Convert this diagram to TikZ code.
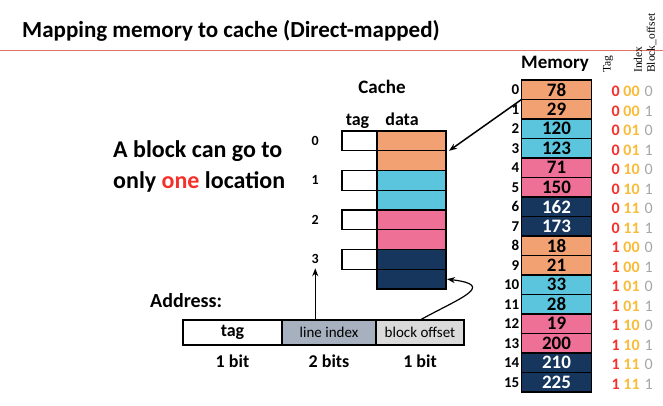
\documentclass[tikz,border=0pt]{standalone}
\usepackage{fontspec}
\setmainfont{Carlito}
\newfontfamily\headfont{Liberation Serif}
\usetikzlibrary{positioning,arrows.meta}

\definecolor{blockorange}{HTML}{F2A172}
\definecolor{blockcyan}{HTML}{5BC5DD}
\definecolor{blockpink}{HTML}{EE7097}
\definecolor{blocknavy}{HTML}{17365D}
\definecolor{bitred}{HTML}{F5302A}
\definecolor{bityellow}{HTML}{F8BC3A}
\definecolor{bitgray}{HTML}{A6A6A6}
\definecolor{rulered}{HTML}{E2736A}
\definecolor{indexfill}{HTML}{A6B0BE}
\definecolor{offsetfill}{HTML}{DADADA}

\newcommand{\tagbit}[1]{{\color{bitred}#1}}
\newcommand{\linebit}[1]{{\color{bityellow}#1}}
\newcommand{\offbit}[1]{{\color{bitgray}\mdseries#1}}

\begin{document}
\begin{tikzpicture}[x=1pt,y=-1pt,
    memcell/.style={draw, line width=1.4pt, minimum width=70pt, minimum height=19.5pt,
      inner sep=0pt, outer sep=0pt, font=\bfseries\fontsize{19}{19}\selectfont},
    orangecell/.style={memcell, fill=blockorange},
    cyancell/.style={memcell, fill=blockcyan},
    pinkcell/.style={memcell, fill=blockpink},
    navycell/.style={memcell, fill=blocknavy, text=white},
    memidx/.style={inner sep=0pt, font=\bfseries\fontsize{15}{15}\selectfont},
    bits/.style={inner sep=0pt, yshift=-2pt, font=\bfseries\fontsize{16}{16}\selectfont},
    colhead/.style={rotate=90, anchor=west, inner sep=0pt, font=\headfont\fontsize{11.5}{11.5}\selectfont},
    datacell/.style={draw, line width=1.4pt, minimum width=69pt, minimum height=19.75pt,
      inner sep=0pt, outer sep=0pt},
    tagcell/.style={datacell, fill=white, minimum width=35pt},
    setnum/.style={inner sep=1pt, font=\bfseries\fontsize{14}{14}\selectfont},
    plaintext/.style={inner sep=0pt, font=\bfseries\fontsize{19}{19}\selectfont},
    field/.style={draw, line width=1.4pt, minimum height=25pt, inner sep=0pt, outer sep=0pt},
    ptr/.style={-{Stealth[length=8pt,width=6pt]}, line width=1.5pt}]
    \useasboundingbox (0,0) rectangle (663,405);

    % title
    \node [plaintext, anchor=base west, font=\bfseries\fontsize{23}{23}\selectfont] (title) at (22,37)
      {Mapping memory to cache (Direct-mapped)};
    \draw [rulered, line width=1pt] (0,50.3) -- (663,50.3);

    % memory
    \node [plaintext, anchor=base] (memlabel) at (555,68) {Memory};
    \node [orangecell] (m0) at (556.5,89.75) {78};
    \node [orangecell, below=0pt of m0] (m1) {29};
    \node [cyancell, below=0pt of m1] (m2) {120};
    \node [cyancell, below=0pt of m2] (m3) {123};
    \node [pinkcell, below=0pt of m3] (m4) {71};
    \node [pinkcell, below=0pt of m4] (m5) {150};
    \node [navycell, below=0pt of m5] (m6) {162};
    \node [navycell, below=0pt of m6] (m7) {173};
    \node [orangecell, below=0pt of m7] (m8) {18};
    \node [orangecell, below=0pt of m8] (m9) {21};
    \node [cyancell, below=0pt of m9] (m10) {33};
    \node [cyancell, below=0pt of m10] (m11) {28};
    \node [pinkcell, below=0pt of m11] (m12) {19};
    \node [pinkcell, below=0pt of m12] (m13) {200};
    \node [navycell, below=0pt of m13] (m14) {210};
    \node [navycell, below=0pt of m14] (m15) {225};

    \node [memidx, left=2pt of m0] (a0) {0};
    \node [memidx, left=2pt of m1] (a1) {1};
    \node [memidx, left=2pt of m2] (a2) {2};
    \node [memidx, left=2pt of m3] (a3) {3};
    \node [memidx, left=2pt of m4] (a4) {4};
    \node [memidx, left=2pt of m5] (a5) {5};
    \node [memidx, left=2pt of m6] (a6) {6};
    \node [memidx, left=2pt of m7] (a7) {7};
    \node [memidx, left=2pt of m8] (a8) {8};
    \node [memidx, left=2pt of m9] (a9) {9};
    \node [memidx, left=2pt of m10] (a10) {10};
    \node [memidx, left=2pt of m11] (a11) {11};
    \node [memidx, left=2pt of m12] (a12) {12};
    \node [memidx, left=2pt of m13] (a13) {13};
    \node [memidx, left=2pt of m14] (a14) {14};
    \node [memidx, left=2pt of m15] (a15) {15};

    \node [bits, right=20pt of m0] (b0) {\tagbit{0} \linebit{00}\hspace{5pt}\offbit{0}};
    \node [bits, right=20pt of m1] (b1) {\tagbit{0} \linebit{00}\hspace{5pt}\offbit{1}};
    \node [bits, right=20pt of m2] (b2) {\tagbit{0} \linebit{01}\hspace{5pt}\offbit{0}};
    \node [bits, right=20pt of m3] (b3) {\tagbit{0} \linebit{01}\hspace{5pt}\offbit{1}};
    \node [bits, right=20pt of m4] (b4) {\tagbit{0} \linebit{10}\hspace{5pt}\offbit{0}};
    \node [bits, right=20pt of m5] (b5) {\tagbit{0} \linebit{10}\hspace{5pt}\offbit{1}};
    \node [bits, right=20pt of m6] (b6) {\tagbit{0} \linebit{11}\hspace{5pt}\offbit{0}};
    \node [bits, right=20pt of m7] (b7) {\tagbit{0} \linebit{11}\hspace{5pt}\offbit{1}};
    \node [bits, right=20pt of m8] (b8) {\tagbit{1} \linebit{00}\hspace{5pt}\offbit{0}};
    \node [bits, right=20pt of m9] (b9) {\tagbit{1} \linebit{00}\hspace{5pt}\offbit{1}};
    \node [bits, right=20pt of m10] (b10) {\tagbit{1} \linebit{01}\hspace{5pt}\offbit{0}};
    \node [bits, right=20pt of m11] (b11) {\tagbit{1} \linebit{01}\hspace{5pt}\offbit{1}};
    \node [bits, right=20pt of m12] (b12) {\tagbit{1} \linebit{10}\hspace{5pt}\offbit{0}};
    \node [bits, right=20pt of m13] (b13) {\tagbit{1} \linebit{10}\hspace{5pt}\offbit{1}};
    \node [bits, right=20pt of m14] (b14) {\tagbit{1} \linebit{11}\hspace{5pt}\offbit{0}};
    \node [bits, right=20pt of m15] (b15) {\tagbit{1} \linebit{11}\hspace{5pt}\offbit{1}};

    \node [colhead] (htag) at (608,73) {Tag};
    \node [colhead] (hindex) at (638,73) {Index};
    \node [colhead] (hoffset) at (651.5,73) {Block\_offset};

    % cache
    \node [plaintext, anchor=base] (cachelabel) at (382,93) {Cache};
    \node [datacell, fill=blockorange] (d0) at (411.5,140.9) {};
    \node [datacell, fill=blockorange, below=0pt of d0] (d1) {};
    \node [datacell, fill=blockcyan, below=0pt of d1] (d2) {};
    \node [datacell, fill=blockcyan, below=0pt of d2] (d3) {};
    \node [datacell, fill=blockpink, below=0pt of d3] (d4) {};
    \node [datacell, fill=blockpink, below=0pt of d4] (d5) {};
    \node [datacell, fill=blocknavy, below=0pt of d5] (d6) {};
    \node [datacell, fill=blocknavy, below=0pt of d6] (d7) {};

    \node [tagcell, left=0pt of d0] (t0) {};
    \node [tagcell, left=0pt of d2] (t1) {};
    \node [tagcell, left=0pt of d4] (t2) {};
    \node [tagcell, left=0pt of d6] (t3) {};

    \node [setnum, left=22pt of t0] (s0) {0};
    \node [setnum, left=22pt of t1] (s1) {1};
    \node [setnum, left=22pt of t2] (s2) {2};
    \node [setnum, left=22pt of t3] (s3) {3};

    \node [plaintext, anchor=base, font=\bfseries\fontsize{18}{18}\selectfont] (taglabel) at (357.5,125) {tag};
    \node [plaintext, anchor=base, font=\bfseries\fontsize{18}{18}\selectfont] (datalabel) at (402,125) {data};

    % text
    \node [plaintext, anchor=base west, font=\bfseries\fontsize{24}{24}\selectfont] (blk1) at (113,157)
      {A block can go to};
    \node [plaintext, anchor=base west, font=\bfseries\fontsize{24}{24}\selectfont] (blk2) at ([yshift=-31pt]blk1.base west)
      {only \textcolor{bitred}{one} location};

    % address
    \node [plaintext, anchor=base west, font=\bfseries\fontsize{20}{20}\selectfont] (addrlabel) at (150,307) {Address:};
    \node [field, fill=white, minimum width=99pt, font=\bfseries\fontsize{18}{18}\selectfont] (tagf) at (232.5,332.5) {tag};
    \node [field, fill=indexfill, minimum width=94pt, right=0pt of tagf, font=\fontsize{15}{15}\selectfont] (lidx) {line index};
    \node [field, fill=offsetfill, minimum width=88pt, right=0pt of lidx, font=\fontsize{15}{15}\selectfont] (boff) {block offset};

    \node [plaintext, below=22pt of tagf.south, anchor=base, font=\bfseries\fontsize{18}{18}\selectfont] (w1) {1 bit};
    \node [plaintext, below=22pt of lidx.south, anchor=base, font=\bfseries\fontsize{18}{18}\selectfont] (w2) {2 bits};
    \node [plaintext, below=22pt of boff.south, anchor=base, font=\bfseries\fontsize{18}{18}\selectfont] (w3) {1 bit};

    % arrows
    \draw [ptr] (m1.north west) -- ([xshift=3pt]d0.south east);
    \draw [ptr, shorten >=3pt] (s3 |- lidx.north) -- (s3.south);
    \draw [ptr, line width=1.2pt] (boff.north) .. controls +(40,-22) and +(50,6) .. ([xshift=1pt]d7.east);
\end{tikzpicture}
\end{document}
